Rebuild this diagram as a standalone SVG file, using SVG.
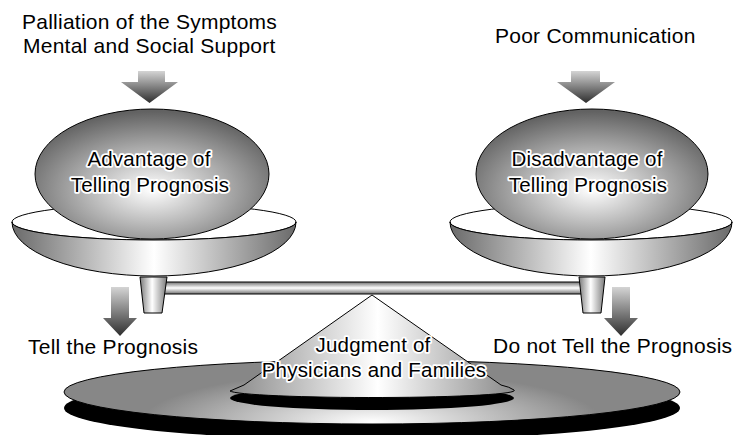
<svg xmlns="http://www.w3.org/2000/svg" width="733" height="435" viewBox="0 0 733 435">
<defs>
<style>
.lbl{font-family:"Liberation Sans",Arial,sans-serif;font-size:21px;letter-spacing:0.25px;fill:#000}
.halo{font-family:"Liberation Sans",Arial,sans-serif;font-size:20.5px;letter-spacing:0.2px;fill:#000;stroke:#fff;stroke-width:3.6px;stroke-linejoin:round;paint-order:stroke;text-anchor:middle}
.ol{stroke:#000;stroke-width:1}
</style>
<linearGradient id="hg" x1="0" y1="0" x2="1" y2="0">
<stop offset="0" stop-color="#6a6a6a"/>
<stop offset="0.5" stop-color="#ffffff"/>
<stop offset="1" stop-color="#6a6a6a"/>
</linearGradient>
<linearGradient id="stemg" x1="0" y1="0" x2="1" y2="0">
<stop offset="0" stop-color="#7a7a7a"/>
<stop offset="0.45" stop-color="#ffffff"/>
<stop offset="1" stop-color="#7a7a7a"/>
</linearGradient>
<linearGradient id="coneg" x1="0" y1="0" x2="1" y2="0">
<stop offset="0" stop-color="#8a8a8a"/>
<stop offset="0.52" stop-color="#ffffff"/>
<stop offset="1" stop-color="#8a8a8a"/>
</linearGradient>
<linearGradient id="beamg" x1="0" y1="0" x2="0" y2="1">
<stop offset="0" stop-color="#707070"/>
<stop offset="0.5" stop-color="#ffffff"/>
<stop offset="1" stop-color="#707070"/>
</linearGradient>
<linearGradient id="arrg" x1="0" y1="0" x2="0" y2="1">
<stop offset="0" stop-color="#d4d4d4"/>
<stop offset="1" stop-color="#2e2e2e"/>
</linearGradient>
<radialGradient id="ballg" cx="0.5" cy="0.62" r="0.6">
<stop offset="0" stop-color="#ffffff"/>
<stop offset="1" stop-color="#626262"/>
</radialGradient>
<radialGradient id="diskg" gradientUnits="userSpaceOnUse" cx="372" cy="422" r="230" gradientTransform="translate(372 422) scale(1 0.22) translate(-372 -422)">
<stop offset="0" stop-color="#ffffff"/>
<stop offset="1" stop-color="#878787"/>
</radialGradient>
</defs>

<g id="base">
<ellipse cx="372" cy="408" rx="308" ry="32" fill="#000"/>
<ellipse class="ol" cx="372" cy="392" rx="308" ry="32" fill="url(#diskg)"/>
</g>

<g id="fulcrum">
<ellipse cx="372" cy="398" rx="142" ry="12" fill="#000"/>
<path class="ol" d="M372,295 L244,385 Q237,388 230,391 A142,7 0 0 0 514,390 Q510,387 501,385 Z" fill="url(#coneg)"/>
<text class="halo" x="373" y="352">Judgment of</text>
<text class="halo" x="374" y="377">Physicians and Families</text>
</g>

<g id="beam">
<rect class="ol" x="162" y="282" width="422" height="12" fill="url(#beamg)"/>
<path class="ol" d="M140,277 L167,277 L162,313 L144,313 Z" fill="url(#stemg)"/>
<path class="ol" d="M579,277 L605,277 L601,313 L583,313 Z" fill="url(#stemg)"/>
</g>

<g id="left-pan">
<ellipse class="ol" cx="154" cy="222" rx="142" ry="18" fill="#fff"/>
<ellipse class="ol" cx="152" cy="174" rx="117" ry="65" fill="url(#ballg)"/>
<path class="ol" d="M12,222 A142,18 0 0 0 296,222 A142,54 0 0 1 12,222 Z" fill="url(#hg)"/>
<text class="halo" x="149" y="166">Advantage of</text>
<text class="halo" x="150" y="192">Telling Prognosis</text>
</g>

<g id="right-pan">
<ellipse class="ol" cx="591" cy="222" rx="141" ry="18" fill="#fff"/>
<ellipse class="ol" cx="592" cy="174" rx="116" ry="65" fill="url(#ballg)"/>
<path class="ol" d="M450,222 A141,18 0 0 0 732,222 A141,54 0 0 1 450,222 Z" fill="url(#hg)"/>
<text class="halo" x="587" y="166">Disadvantage of</text>
<text class="halo" x="588" y="192">Telling Prognosis</text>
</g>

<g id="connectors" fill="url(#arrg)">
<polygon points="138,71 165,71 165,82 178,82 149.5,103 121,82 138,82"/>
<polygon points="571,71 600,71 600,82 615,82 586,103 557,82 571,82"/>
<polygon points="111,287 129,287 129,318 137,318 120,336 103,318 111,318"/>
<polygon points="612,287 630,287 630,318 638,318 621,336 604,318 612,318"/>
</g>

<g id="labels">
<text class="lbl" x="22" y="29">Palliation of the Symptoms</text>
<text class="lbl" x="23" y="53">Mental and Social Support</text>
<text class="lbl" x="495" y="43">Poor Communication</text>
<text class="lbl" x="28" y="354">Tell the Prognosis</text>
<text class="lbl" x="493" y="353">Do not Tell the Prognosis</text>
</g>
</svg>
